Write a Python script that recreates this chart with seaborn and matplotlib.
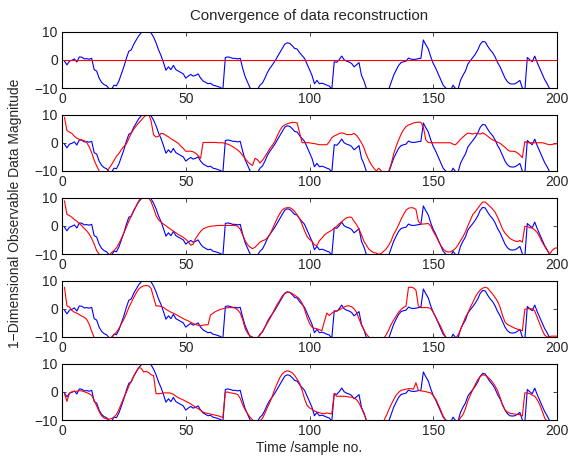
import matplotlib
matplotlib.use("Agg")
import matplotlib.pyplot as plt
import numpy as np
import pandas as pd
import seaborn as sns

# sample index (time axis)
samples = list(range(1, 201))

# observed signal (blue), same in every panel
observed = [
    -0.5, -1.8, -0.5, -0.2, 0.3, -0.8, 1.0, 0.9, 0.3, 0.4,
    0.2, 0.5, -3.5, -4.0, -6.5, -8.0, -8.8, -9.2, -10.2, -10.5,
    -9.0, -9.2, -7.5, -5.0, -2.5, 0.5, 3.0, 3.5, 5.5, 7.0,
    8.5, 9.5, 10.5, 11.5, 11.0, 9.5, 8.0, 6.0, 3.5, 1.5,
    -1.0, -3.7, -2.5, -3.5, -2.0, -3.5, -4.0, -4.5, -5.0, -6.5,
    -5.8, -5.2, -5.8, -5.5, -5.0, -6.5, -7.5, -8.0, -8.5, -8.3,
    -9.0, -9.2, -9.5, -9.8, -10.5, 0.8, 1.0, 0.8, 0.5, 0.5,
    0.3, 0.5, -3.0, -6.0, -8.0, -10.0, -10.8, -11.0, -10.5, -9.0,
    -8.2, -6.5, -4.5, -3.0, -1.8, -0.5, 1.0, 2.5, 4.0, 5.5,
    6.0, 5.8, 5.0, 4.0, 3.8, 2.5, 1.5, 0.5, -1.5, -3.5,
    -5.5, -8.5, -7.3, -8.5, -8.3, -8.6, -9.0, -9.3, -10.5, -0.7,
    -0.9, 0.0, 1.3, 0.0, -0.5, -0.8, -1.3, -2.5, -1.8, -1.0,
    -5.5, -7.5, -10.2, -11.0, -11.5, -12.0, -12.0, -11.5, -11.5, -11.0,
    -11.0, -10.5, -8.0, -5.5, -3.7, -2.0, -1.0, -0.7, -0.5, 0.6,
    0.2, 0.1, 0.2, 0.4, 0.5, 7.0, 5.3, 3.8, 1.0, -1.3,
    -3.0, -5.0, -7.0, -9.0, -10.0, -10.5, -10.8, -9.0, -10.2, -10.5,
    -7.3, -5.5, -4.0, -1.5, -0.3, 0.8, 2.0, 3.5, 5.5, 6.5,
    6.3, 4.8, 3.5, 2.5, 1.0, -1.0, -2.5, -4.5, -6.5, -7.8,
    -8.5, -8.6, -8.5, -8.0, -7.3, -10.0, -11.0, 0.8, 0.0, -0.7,
    1.3, -1.0, -3.0, -5.0, -7.0, -8.5, -10.2, -11.0, -11.0, -11.0,
]

# reconstructions (red), one per iteration
recon_1 = [0.0] * 200

recon_2 = [
    9.0, 4.3, 3.8, 3.3, 2.3, 1.6, 1.2, 1.0, 0.7, 0.1,
    -1.5, -3.5, -6.2, -8.2, -10.0, -10.8, -11.0, -10.8, -9.0, -7.8,
    -6.3, -4.8, -3.8, -2.4, -1.3, -0.4, 1.5, 3.4, 4.8, 6.0,
    7.0, 8.0, 9.0, 9.8, 10.3, 7.7, 2.8, 2.0, 2.3, 3.3,
    3.2, 2.6, 2.1, 1.4, 0.9, 0.4, -0.2, -1.2, -2.0, -3.0,
    -3.0, -3.0, -3.2, -3.7, -4.6, -5.5, 0.1, 0.1, 0.1, 0.1,
    0.1, 0.1, 0.0, 0.0, 0.0, -0.3, -0.5, -0.9, -1.4, -2.0,
    -2.6, -3.4, -4.5, -5.6, -6.7, -7.5, -8.0, -5.5, -6.0, -7.2,
    -6.2, -4.9, -3.5, -2.0, -0.9, 0.5, 2.5, 4.3, 5.7, 6.3,
    6.7, 7.0, 7.2, 7.2, 7.0, 3.5, 0.1, 0.0, 0.0, 0.0,
    -0.2, -0.3, -0.5, -0.7, -0.7, -0.7, -0.7, 0.3, 1.8, 2.4,
    2.8, 3.3, 3.5, 3.3, 2.9, 2.9, 2.9, 3.3, 2.6, 1.4,
    0.0, -1.8, -4.3, -6.2, -7.8, -9.0, -10.0, -9.0, -10.0, -10.5,
    -10.5, -10.2, -7.5, -4.0, -1.3, 1.0, 3.0, 4.6, 5.7, 6.3,
    6.6, 7.0, 7.2, 7.3, 7.2, 5.5, 1.0, 0.1, 0.0, 0.0,
    0.0, 0.0, 0.0, 0.0, 0.0, 0.0, 0.0, -0.5, -0.7, 0.2,
    1.2, 2.0, 2.8, 3.4, 3.3, 3.1, 3.4, 3.2, 3.1, 3.5,
    3.0, 2.3, 1.6, 1.0, 0.6, 0.2, -0.2, -0.9, -1.6, -2.5,
    -3.0, -3.0, -3.1, -3.6, -4.3, -5.3, 0.4, 0.0, 0.0, 0.0,
    0.0, 0.0, 0.0, 0.0, -0.2, -0.5, -0.7, -0.6, -0.4, -0.4,
]

recon_3 = [
    8.8, 4.0, 3.6, 3.0, 2.2, 1.6, 0.8, 0.0, -1.0, -1.8,
    -3.0, -4.5, -6.5, -8.8, -10.0, -10.8, -11.0, -11.0, -10.5, -9.5,
    -8.8, -7.8, -6.3, -4.5, -2.5, -0.5, 1.6, 3.4, 5.2, 7.0,
    8.8, 9.8, 10.2, 10.4, 9.8, 8.5, 6.2, 3.6, 2.1, 1.3,
    0.6, 0.0, -0.7, -1.3, -1.9, -2.5, -3.1, -3.6, -4.1, -4.8,
    -5.6, -6.9, -6.5, -4.5, -3.2, -2.0, -1.1, -0.7, -0.4, -0.2,
    -0.1, 0.0, 0.1, 0.1, 0.1, 0.1, 0.1, 0.1, 0.1, 0.1,
    -0.2, -1.2, -3.3, -5.3, -6.7, -7.6, -8.1, -7.6, -6.7, -5.8,
    -5.3, -5.0, -4.2, -3.0, -1.2, 0.8, 2.7, 4.3, 5.6, 6.2,
    6.4, 6.4, 5.9, 5.1, 3.8, 2.5, 0.5, -1.8, -3.8, -4.8,
    -5.5, -6.8, -7.0, -5.3, -4.4, -3.3, -2.6, -2.1, -1.6, -0.9,
    -0.2, 0.7, 1.4, 2.2, 2.8, 3.1, 3.0, 1.6, 0.4, -1.2,
    -3.2, -5.5, -6.9, -8.3, -9.0, -9.5, -9.7, -10.1, -9.8, -9.0,
    -8.2, -6.9, -5.3, -3.0, -1.5, 0.3, 2.3, 4.0, 5.5, 6.2,
    6.4, 6.3, 5.8, 1.5, 0.6, 0.6, 0.7, 0.8, -0.1, -2.0,
    -3.5, -5.2, -6.9, -8.2, -9.0, -9.3, -9.2, -8.7, -8.0, -6.8,
    -5.3, -3.9, -2.2, 0.0, 2.0, 4.0, 5.0, 6.2, 7.4, 8.4,
    8.4, 7.6, 6.8, 5.9, 4.8, 3.0, 1.0, -1.2, -2.6, -3.6,
    -4.5, -5.0, -5.4, -5.6, -5.2, -5.8, -0.2, -0.3, -0.7, -0.8,
    -1.5, -2.4, -3.9, -5.8, -7.3, -8.7, -10.0, -8.8, -8.0, -7.8,
]

recon_4 = [
    7.6, 1.0, 0.6, -0.6, -1.2, -1.6, -2.1, -2.6, -3.0, -3.8,
    -5.5, -8.0, -10.2, -11.0, -11.5, -11.5, -11.5, -11.0, -10.5, -10.0,
    -9.2, -8.3, -7.0, -5.3, -3.7, -1.8, 0.4, 2.2, 4.0, 5.6,
    7.0, 7.7, 8.1, 8.2, 8.1, 7.2, 4.0, 1.0, 1.0, 0.8,
    0.5, -0.2, -0.7, -1.2, -1.6, -2.0, -2.5, -3.0, -3.5, -3.9,
    -4.3, -4.8, -5.2, -5.6, -5.9, -6.0, -5.8, -5.7, -5.7, -2.2,
    -1.6, -1.0, -0.6, -0.2, 0.0, 0.2, 0.4, 0.4, 0.4, 0.2,
    -0.4, -1.5, -3.9, -7.0, -8.7, -9.6, -10.0, -10.5, -10.2, -9.3,
    -8.0, -6.5, -5.0, -3.5, -1.8, 0.0, 1.6, 3.0, 4.5, 5.4,
    5.8, 5.8, 5.4, 4.8, 4.2, 3.4, 2.0, -0.2, -3.0, -5.2,
    -6.5, -6.9, -7.1, -7.4, -7.8, -4.5, -1.5, -2.4, -1.6, -1.0,
    -0.8, -0.4, 0.1, 0.6, 1.0, 1.0, 0.7, 0.0, -1.3, -3.6,
    -5.8, -7.5, -9.0, -10.0, -10.8, -11.2, -11.5, -11.5, -11.2, -10.5,
    -9.2, -7.5, -5.5, -4.0, -2.6, -1.2, -0.3, 0.5, 0.9, 7.6,
    7.6, 7.4, 6.6, 1.0, 0.4, 0.4, 0.4, 0.4, 0.0, -1.2,
    -3.0, -4.7, -6.3, -8.3, -10.0, -10.8, -11.0, -11.0, -10.5, -9.3,
    -7.5, -5.3, -3.0, -1.5, 0.5, 2.3, 4.2, 5.6, 6.6, 7.3,
    7.6, 7.3, 6.2, 5.2, 4.0, 2.6, 0.6, -2.4, -4.7, -5.6,
    -6.0, -6.5, -6.9, -7.2, -7.5, -7.8, -0.2, 0.0, 0.0, 0.0,
    -0.8, -3.0, -5.1, -7.5, -9.3, -10.0, -9.8, -9.7, -9.7, -9.7,
]

recon_5 = [
    -0.7, -3.4, -0.5, 0.0, 0.1, 0.2, 0.4, 0.3, 0.0, -0.3,
    -0.7, -1.3, -3.0, -5.0, -7.0, -8.5, -9.3, -9.6, -9.7, -9.5,
    -9.0, -8.0, -6.3, -4.2, -2.0, -0.2, 2.0, 3.8, 5.6, 7.2,
    8.6, 8.3, 7.0, 7.2, 6.8, 6.0, 5.7, -0.7, -0.7, -0.6,
    -0.4, -0.4, -0.4, -0.5, -0.9, -1.6, -2.1, -2.5, -2.9, -3.4,
    -3.8, -4.3, -4.9, -5.5, -6.0, -6.6, -7.2, -7.5, -7.7, -7.9,
    -8.1, -8.3, -8.5, -8.8, -9.1, -0.2, -0.1, -0.4, -0.5, -0.7,
    -1.0, -2.3, -4.6, -6.4, -7.8, -9.0, -10.0, -10.6, -10.8, -10.3,
    -9.4, -7.6, -5.5, -3.7, -1.5, 1.0, 3.0, 5.0, 6.3, 7.1,
    7.4, 7.2, 6.7, 5.8, 4.4, 3.0, 0.5, -2.5, -4.8, -5.7,
    -6.2, -6.8, -7.2, -7.4, -7.7, -7.8, -7.5, -7.7, -7.8, -0.6,
    -1.6, -1.6, -1.6, -1.6, -1.7, -1.9, -1.9, -2.2, -2.8, -4.0,
    -5.8, -7.8, -10.0, -10.8, -11.2, -11.5, -11.5, -11.2, -10.8, -10.3,
    -8.5, -6.5, -4.5, -2.8, -1.2, -0.2, 0.5, 0.7, 0.9, 1.1,
    1.1, 0.9, 3.2, 0.5, 0.3, 0.2, 0.0, -0.2, -0.4, -1.4,
    -2.6, -4.5, -6.5, -8.6, -10.0, -10.8, -11.2, -11.2, -11.0, -10.5,
    -9.2, -8.1, -6.0, -3.2, -1.2, 0.8, 2.6, 4.3, 5.4, 6.0,
    5.8, 5.2, 4.4, 3.3, 2.0, 0.4, -2.0, -4.8, -6.4, -7.2,
    -7.6, -7.8, -7.9, -8.0, -8.1, -8.6, -0.4, -0.4, -0.7, -1.2,
    -1.6, -2.8, -4.5, -6.8, -9.3, -10.5, -11.0, -11.0, -11.0, -11.0,
]

reconstructions = [recon_1, recon_2, recon_3, recon_4, recon_5]
x_ticks = [0, 50, 100, 150, 200]
y_ticks = [-10, 0, 10]

sns.set_style("ticks")
plt.rcParams['font.family'] = ['Liberation Sans', 'DejaVu Sans']
plt.rcParams['font.size'] = 10

fig = plt.figure(figsize=(5.71, 4.59), dpi=100)
W, H = 571.0, 459.0
left, right = 62.0, 557.0
tops = [31.5, 114.5, 197.5, 280.5, 363.5]
panel_h = 56.5

axes = []
for top, recon in zip(tops, reconstructions):
    ax = fig.add_axes([left / W, 1 - (top + panel_h) / H, (right - left) / W, panel_h / H])
    df = pd.DataFrame({'t': samples, 'observed': observed, 'recon': recon})
    sns.lineplot(data=df, x='t', y='observed', color='#0000ff', lw=0.8, ax=ax)
    sns.lineplot(data=df, x='t', y='recon', color='#ff0000', lw=0.8, ax=ax)
    ax.set_xlim(0, 200)
    ax.set_ylim(-10, 10)
    ax.set_xticks(x_ticks)
    ax.set_yticks(y_ticks)
    ax.set_xlabel('')
    ax.set_ylabel('')
    ax.tick_params(direction='in', top=True, right=True, length=3, width=0.6,
                   labelsize=10, pad=3)
    for sp in ax.spines.values():
        sp.set_linewidth(0.8)
        sp.set_color('black')
    axes.append(ax)

axes[0].set_title('Convergence of data reconstruction', fontsize=10.8, pad=8)
axes[-1].set_xlabel('Time /sample no.', fontsize=10, labelpad=2)
fig.text(15 / W, 1 - 213 / H, '1\u2212Dimensional Observable Data Magnitude',
         rotation=90, va='center', ha='center', fontsize=10)

fig.savefig('out.png', dpi=100)
